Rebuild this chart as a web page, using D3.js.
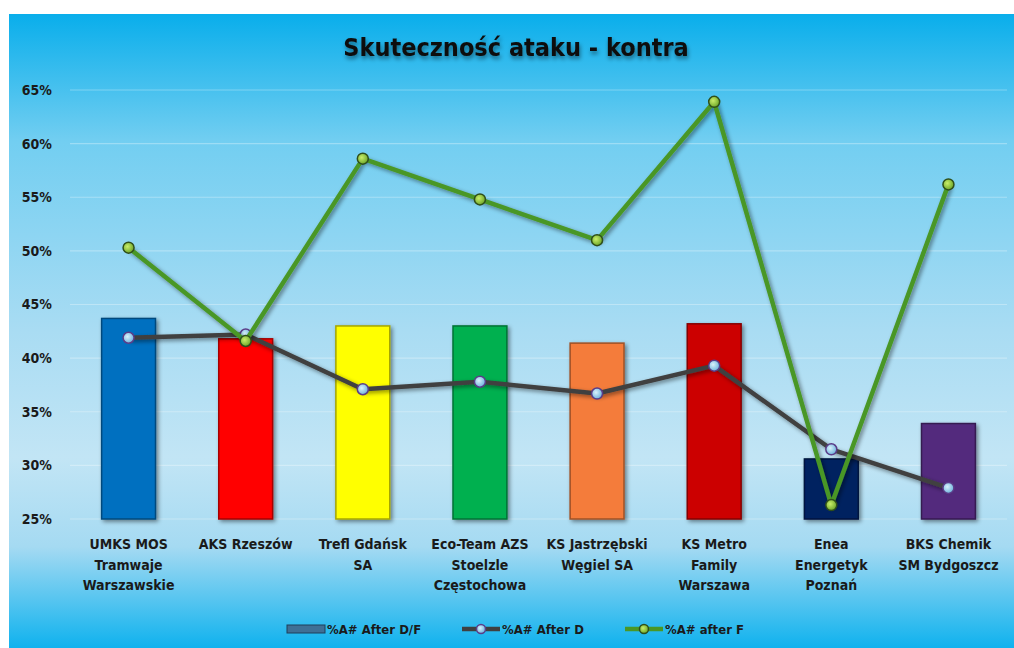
<!DOCTYPE html>
<html>
<head>
<meta charset="utf-8">
<script src="https://cdn.jsdelivr.net/npm/d3@7"></script>
<style>
  html, body { margin: 0; padding: 0; background: #fff; }
  svg { display: block; }
</style>
</head>
<body>
<div id="chart"></div>
<script>
const categories = [
  'UMKS MOS\nTramwaje\nWarszawskie',
  'AKS Rzeszów',
  'Trefl Gdańsk\nSA',
  'Eco-Team AZS\nStoelzle\nCzęstochowa',
  'KS Jastrzębski\nWęgiel SA',
  'KS Metro\nFamily\nWarszawa',
  'Enea\nEnergetyk\nPoznań',
  'BKS Chemik\nSM Bydgoszcz'
];
const afterDF = [0.437, 0.418, 0.430, 0.430, 0.414, 0.432, 0.306, 0.339];
const afterD  = [0.419, 0.422, 0.371, 0.378, 0.367, 0.393, 0.315, 0.279];
const afterF  = [0.503, 0.416, 0.586, 0.548, 0.510, 0.639, 0.263, 0.562];
const barColors = ['#0070C0','#FF0000','#FFFF00','#00B050','#F47C3A','#CC0000','#002060','#532A7D'];
const yTicks = [0.25, 0.30, 0.35, 0.40, 0.45, 0.50, 0.55, 0.60, 0.65];
const seriesNames = ['%A# After D/F', '%A# After D', '%A# after F'];

const W = 1014, H = 648;
const FONT = "'Liberation Sans Narrow', 'DejaVu Sans Condensed', 'Liberation Sans', sans-serif";

const svg = d3.select('#chart').append('svg')
  .attr('width', W).attr('height', H);

const defs = svg.append('defs');
const bg = defs.append('linearGradient').attr('id', 'bg')
  .attr('x1', 0).attr('y1', 0).attr('x2', 0).attr('y2', 1);
bg.append('stop').attr('offset', '0%').attr('stop-color', '#09AEEB');
bg.append('stop').attr('offset', '20%').attr('stop-color', '#72CEF1');
bg.append('stop').attr('offset', '50%').attr('stop-color', '#A9DCF3');
bg.append('stop').attr('offset', '70%').attr('stop-color', '#C2E5F5');
bg.append('stop').attr('offset', '84%').attr('stop-color', '#A5DAF2');
bg.append('stop').attr('offset', '100%').attr('stop-color', '#0FB2EE');

const shadow = defs.append('filter').attr('id', 'shadow')
  .attr('x', '-30%').attr('y', '-30%').attr('width', '160%').attr('height', '160%');
shadow.append('feDropShadow').attr('dx', 2).attr('dy', 2).attr('stdDeviation', 2)
  .attr('flood-color', '#000').attr('flood-opacity', 0.45);

const tshadow = defs.append('filter').attr('id', 'tshadow')
  .attr('x', '-10%').attr('y', '-30%').attr('width', '120%').attr('height', '180%');
tshadow.append('feDropShadow').attr('dx', 1).attr('dy', 3).attr('stdDeviation', 2)
  .attr('flood-color', '#000').attr('flood-opacity', 0.45);

const markBlue = defs.append('radialGradient').attr('id', 'mBlue')
  .attr('cx', '40%').attr('cy', '40%').attr('r', '60%');
markBlue.append('stop').attr('offset', '0%').attr('stop-color', '#D9F1FB');
markBlue.append('stop').attr('offset', '100%').attr('stop-color', '#6FB4DD');
const markGreen = defs.append('radialGradient').attr('id', 'mGreen')
  .attr('cx', '40%').attr('cy', '40%').attr('r', '60%');
markGreen.append('stop').attr('offset', '0%').attr('stop-color', '#C9EE6A');
markGreen.append('stop').attr('offset', '100%').attr('stop-color', '#6FA82A');

// background
svg.append('rect').attr('x', 9).attr('y', 14).attr('width', W - 9).attr('height', H - 14)
  .attr('fill', 'url(#bg)');

// title
svg.append('text').text('Skuteczność ataku - kontra')
  .attr('x', 516).attr('y', 56).attr('text-anchor', 'middle')
  .attr('font-family', FONT).attr('font-weight', 'bold').attr('font-size', 25)
  .attr('fill', '#111').attr('filter', 'url(#tshadow)');

const x = d3.scaleBand().domain(categories).range([70, 1007])
  .paddingInner(0.54).paddingOuter(0.27);
const y = d3.scaleLinear().domain([0.25, 0.65]).range([519, 90]);
const cx = d => x(d) + x.bandwidth() / 2;

// gridlines
svg.append('g').selectAll('line').data(yTicks).join('line')
  .attr('x1', 70).attr('x2', 1007)
  .attr('y1', d => y(d)).attr('y2', d => y(d))
  .attr('stroke', '#fff').attr('stroke-opacity', 0.3).attr('stroke-width', 1.2);

// y axis
const yAxis = svg.append('g').attr('transform', 'translate(56,0)')
  .call(d3.axisLeft(y).tickValues(yTicks).tickFormat(d3.format('.0%')).tickSize(0).tickPadding(4));
yAxis.select('.domain').remove();
yAxis.selectAll('text').attr('font-family', FONT).attr('font-weight', 'bold')
  .attr('font-size', 14).attr('fill', '#1a1a1a');

// bars
svg.append('g').selectAll('rect').data(categories).join('rect')
  .attr('x', d => x(d)).attr('width', x.bandwidth())
  .attr('y', (d, i) => y(afterDF[i]))
  .attr('height', (d, i) => y(0.25) - y(afterDF[i]))
  .attr('fill', (d, i) => barColors[i])
  .attr('stroke', (d, i) => d3.color(barColors[i]).darker(1.2))
  .attr('stroke-width', 1.5)
  .attr('filter', 'url(#shadow)');

// lines
function drawLine(vals, color, markFill, markStroke) {
  const line = d3.line().x((d, i) => cx(categories[i])).y(d => y(d));
  svg.append('path').datum(vals).attr('d', line)
    .attr('fill', 'none').attr('stroke', color).attr('stroke-width', 4.5)
    .attr('stroke-linejoin', 'round').attr('filter', 'url(#shadow)');
  svg.append('g').selectAll('circle').data(vals).join('circle')
    .attr('cx', (d, i) => cx(categories[i])).attr('cy', d => y(d)).attr('r', 5.5)
    .attr('fill', markFill).attr('stroke', markStroke).attr('stroke-width', 1.5);
}
drawLine(afterD, '#404040', 'url(#mBlue)', '#5B3C88');
drawLine(afterF, '#4A9726', 'url(#mGreen)', '#2F4F1A');

// category labels
const xl = svg.append('g');
categories.forEach(c => {
  const t = xl.append('text').attr('x', cx(c)).attr('y', 549).attr('text-anchor', 'middle')
    .attr('font-family', FONT).attr('font-weight', 'bold').attr('font-size', 14).attr('fill', '#1a1a1a');
  c.split('\n').forEach((s, j) => {
    t.append('tspan').attr('x', cx(c)).attr('dy', j === 0 ? 0 : 20.5).text(s);
  });
});

// legend
const lg = svg.append('g').attr('font-family', FONT).attr('font-weight', 'bold')
  .attr('font-size', 13).attr('fill', '#1a1a1a');
const legX = [287, 462, 625];
lg.append('rect').attr('x', legX[0]).attr('y', 625).attr('width', 38).attr('height', 8)
  .attr('fill', '#3F6F95').attr('stroke', '#1F3F5A').attr('stroke-width', 1);
lg.append('line').attr('x1', legX[1]).attr('x2', legX[1] + 38).attr('y1', 629).attr('y2', 629)
  .attr('stroke', '#404040').attr('stroke-width', 4.5);
lg.append('circle').attr('cx', legX[1] + 19).attr('cy', 629).attr('r', 4.5)
  .attr('fill', 'url(#mBlue)').attr('stroke', '#5B3C88').attr('stroke-width', 1.5);
lg.append('line').attr('x1', legX[2]).attr('x2', legX[2] + 38).attr('y1', 629).attr('y2', 629)
  .attr('stroke', '#4A9726').attr('stroke-width', 4.5);
lg.append('circle').attr('cx', legX[2] + 19).attr('cy', 629).attr('r', 4.5)
  .attr('fill', 'url(#mGreen)').attr('stroke', '#2F4F1A').attr('stroke-width', 1.5);
seriesNames.forEach((s, i) => {
  lg.append('text').attr('x', legX[i] + 40).attr('y', 634).text(s);
});
</script>
</body>
</html>
